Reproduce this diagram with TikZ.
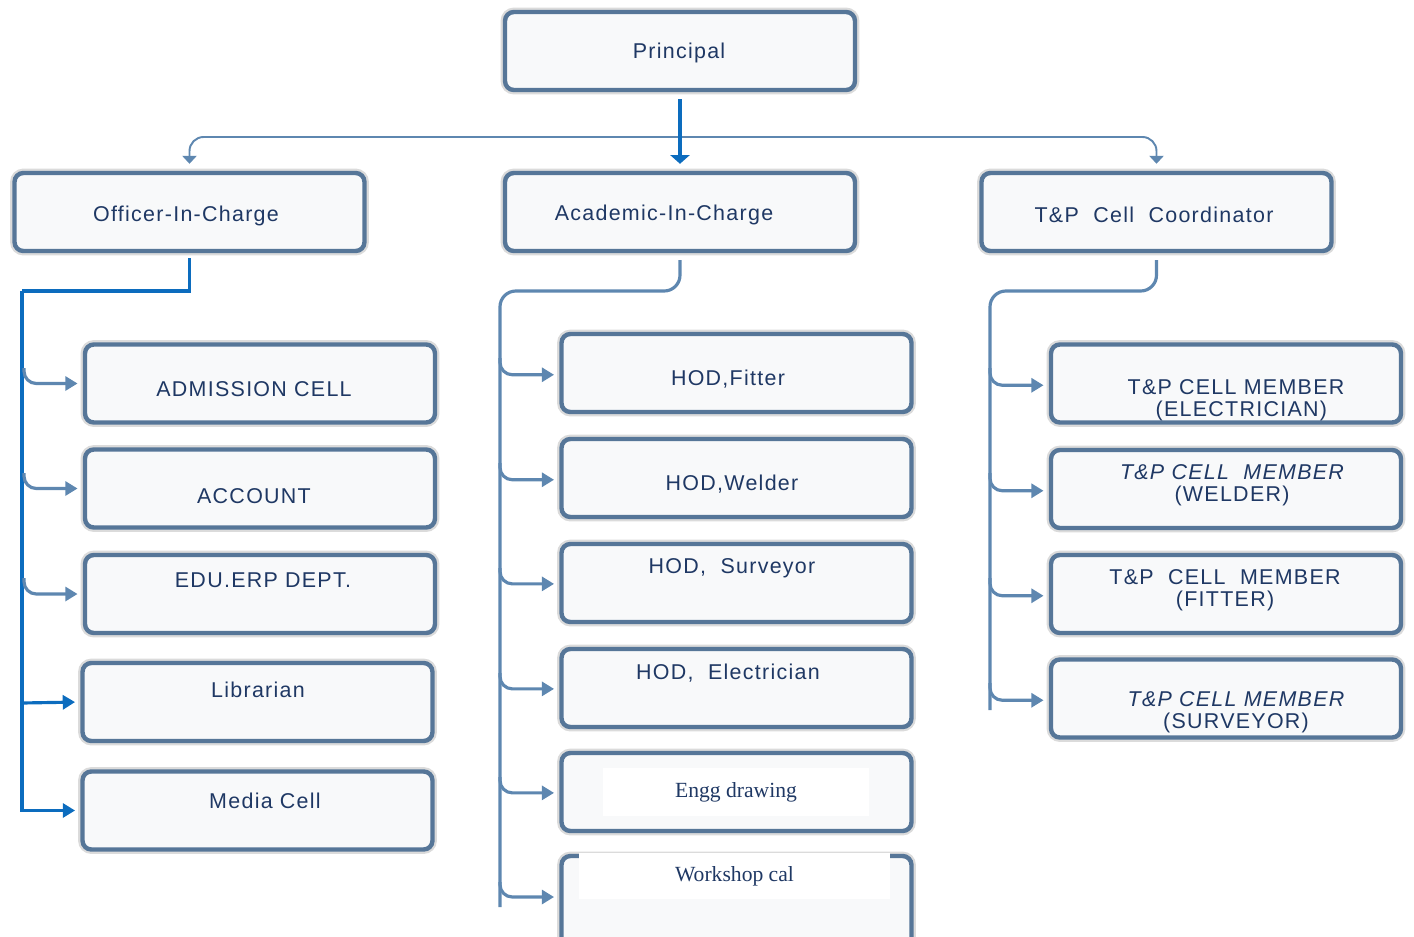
\documentclass[tikz,border=0pt]{standalone}
\usepackage{fontspec}
\setmainfont{Liberation Sans}[LetterSpace=6]
\newfontfamily\serifbox{Liberation Serif}
\usetikzlibrary{arrows.meta}
\definecolor{boxborder}{RGB}{86,118,152}
\definecolor{boxfill}{RGB}{248,249,250}
\definecolor{txt}{RGB}{31,56,100}
\definecolor{conn}{RGB}{94,135,176}
\definecolor{bright}{RGB}{12,108,190}
\tikzset{
  orgbox/.style={draw=boxborder, fill=boxfill, line width=2.5pt, rounded corners=5pt,
    minimum width=7.0cm, minimum height=1.56cm, inner sep=0pt,
    preaction={draw=black!14, line width=5pt}},
  lbl/.style={text=txt, font=\fontsize{12.2}{12.6}\selectfont, align=center, inner sep=0pt},
  serlbl/.style={text=txt, font=\serifbox\fontsize{12.3}{14}\selectfont, fill=white, inner sep=0pt},
  connline/.style={draw=conn, line width=1.8pt, rounded corners=7pt, shorten >=3pt,
    -{Triangle[length=7pt,width=8pt]}},
  trunk/.style={draw=conn, line width=1.8pt, rounded corners=9pt},
  topline/.style={draw=conn, line width=1.1pt, rounded corners=8pt, shorten >=4pt, shorten <=4pt,
    {Triangle[length=4.5pt,width=8pt]}-{Triangle[length=4.5pt,width=8pt]}},
  brightline/.style={draw=bright, line width=1.8pt},
  brightarrow/.style={draw=bright, line width=1.8pt, shorten >=3pt, -{Triangle[length=7pt,width=8pt]}}
}
\begin{document}
\begin{tikzpicture}[x=0.02cm,y=-0.02cm]
\useasboundingbox (0,0) rectangle (1414,937);
\clip (0,0) rectangle (1414,937);
% top level
\node[orgbox] (prin) at (680,51) {};
\node[lbl] (prin-t) at (679,53) {Principal};
\node[orgbox] (oic) at (189.5,212) {};
\node[lbl] (oic-t) at (186,216) {Officer-In-Charge};
\node[orgbox] (aic) at (680,212) {};
\node[lbl] (aic-t) at (664,215) {Academic-In-Charge};
\node[orgbox] (tpc) at (1156.5,212) {};
\node[lbl] (tpc-t) at (1154,215) {T\&P\ \ Cell\ \ Coordinator};
% left column
\node[orgbox] (adm) at (260,383.5) {};
\node[lbl] (adm-t) at (254,389) {ADMISSION CELL};
\node[orgbox] (acc) at (260,488.5) {};
\node[lbl] (acc-t) at (254,496) {ACCOUNT};
\node[orgbox] (edu) at (260,594) {};
\node[lbl] (edu-t) at (263,580) {EDU.ERP DEPT.};
\node[orgbox] (lib) at (257.5,702) {};
\node[lbl] (lib-t) at (258,690) {Librarian};
\node[orgbox] (med) at (257.5,810.5) {};
\node[lbl] (med-t) at (265,801) {Media Cell};
% middle column
\node[orgbox] (fit) at (736.5,373) {};
\node[lbl] (fit-t) at (728,379) {HOD,Fitter};
\node[orgbox] (wel) at (736.5,478) {};
\node[lbl] (wel-t) at (732,484) {HOD,Welder};
\node[orgbox] (sur) at (736.5,583) {};
\node[lbl] (sur-t) at (732,568) {HOD,\ \ Surveyor};
\node[orgbox] (ele) at (736.5,688) {};
\node[lbl] (ele-t) at (728,673) {HOD,\ \ Electrician};
\node[orgbox] (eng) at (736.5,792) {};
\node[serlbl, minimum width=5.34cm, minimum height=0.96cm] (eng-t) at (736,792) {Engg drawing};
\node[orgbox, minimum height=2cm] (wor) at (736.5,906) {};
\node[serlbl, minimum width=6.22cm, minimum height=0.92cm] (wor-t) at (734.5,876) {Workshop cal};
% right column
\node[orgbox] (tpe) at (1226,383.5) {};
\node[lbl] (tpe-t) at (1236,400) {T\&P CELL MEMBER\\ \hspace*{0.5em}(ELECTRICIAN)};
\node[orgbox] (tpw) at (1226,489) {};
\node[lbl] (tpw-t) at (1232,485) {\itshape T\&P CELL\ \ MEMBER\\(WELDER)};
\node[orgbox] (tpf) at (1226,594) {};
\node[lbl] (tpf-t) at (1225,590) {T\&P\ \ CELL\ \ MEMBER\\(FITTER)};
\node[orgbox] (tps) at (1226,698.5) {};
\node[lbl] (tps-t) at (1236,712) {\itshape T\&P CELL MEMBER\\(SURVEYOR)};
% top connectors
\coordinate (hl) at (680,137);
\draw[topline] (oic.north) |- (hl) -| (tpc.north);
\draw[draw=bright, line width=1.8pt, shorten <=4pt, shorten >=4pt, -{Triangle[length=5pt,width=11pt]}] (prin.south) -- (aic.north);
% officer trunk (bright blue)
\coordinate (lc) at (22,291);
\coordinate (lb) at (22,703);
\draw[brightline, shorten <=3pt] (oic.south) |- (lc);
\draw[brightarrow] (lc) |- (med.west);
\draw[brightarrow] (lb) -- (lib.west);
\coordinate (l1) at (24,368);
\coordinate (l2) at (24,473);
\coordinate (l3) at (24,578);
\draw[connline] (l1) |- (adm.west);
\draw[connline] (l2) |- (acc.west);
\draw[connline] (l3) |- (edu.west);
% academic trunk
\coordinate (mc) at (500,291);
\coordinate (me) at (500,907);
\draw[trunk, shorten <=4pt] (aic.south) |- (mc) -- (me);
\coordinate (m1) at (500,358);
\coordinate (m2) at (500,463);
\coordinate (m3) at (500,568);
\coordinate (m4) at (500,673);
\coordinate (m5) at (500,777);
\coordinate (m6) at (500,882);
\draw[connline] (m1) |- ([yshift=-1pt]fit.west);
\draw[connline] (m2) |- ([yshift=-1pt]wel.west);
\draw[connline] (m3) |- ([yshift=-0.5pt]sur.west);
\draw[connline] (m4) |- ([yshift=-0.5pt]ele.west);
\draw[connline] (m5) |- ([yshift=-0.5pt]eng.west);
\draw[connline] (m6) |- ([yshift=0.18cm]wor.west);
% T&P trunk
\coordinate (rc) at (990,291);
\coordinate (re) at (990,710);
\draw[trunk, shorten <=4pt] (tpc.south) |- (rc) -- (re);
\coordinate (r1) at (990,368);
\coordinate (r2) at (990,473);
\coordinate (r3) at (990,578);
\coordinate (r4) at (990,683);
\draw[connline] (r1) |- ([yshift=-1pt]tpe.west);
\draw[connline] (r2) |- ([yshift=-1pt]tpw.west);
\draw[connline] (r3) |- ([yshift=-1pt]tpf.west);
\draw[connline] (r4) |- ([yshift=-1pt]tps.west);
\end{tikzpicture}
\end{document}
